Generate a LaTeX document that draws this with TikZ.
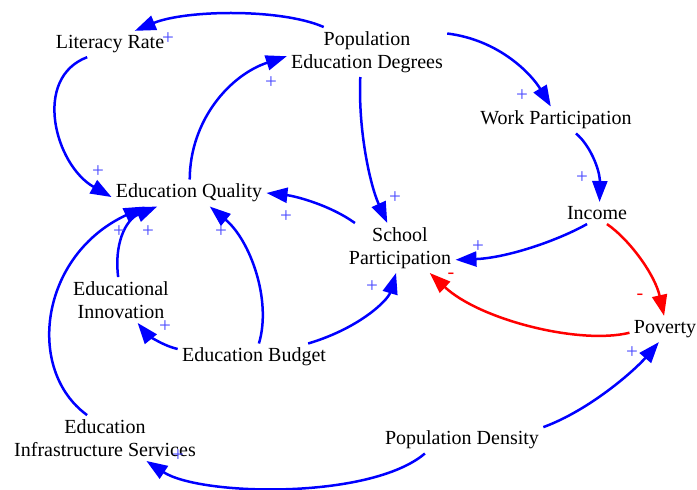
\documentclass[tikz,border=0pt]{standalone}
\usepackage{fontspec}
\setmainfont{Liberation Serif}
\usetikzlibrary{arrows.meta}

\definecolor{plusblue}{RGB}{70,70,255}

\begin{document}
\begin{tikzpicture}[
  x=0.5pt, y=-0.5pt,
  varnode/.style={rectangle, inner sep=2pt, align=center, font=\fontsize{10}{11.5}\selectfont},
  posarrow/.style={-{Triangle[length=10.5pt,width=7.5pt]}, line width=1.25pt, blue},
  negarrow/.style={-{Triangle[length=10.5pt,width=7.5pt]}, line width=1.25pt, red},
  possign/.style={inner sep=0pt, text=plusblue, font=\fontsize{10.5}{10.5}\selectfont},
  negsign/.style={inner sep=0pt, text=red, font=\fontsize{10}{10}\selectfont}
]
\useasboundingbox (0,0) rectangle (697,489);

% Variables
\node[varnode] (lit) at (110,44) {Literacy Rate};
\node[varnode] (ped) at (367,52) {Population\\Education Degrees};
\node[varnode] (wp) at (556,120) {Work Participation};
\node[varnode] (inc) at (597,213) {Income};
\node[varnode] (eq) at (189,193) {Education Quality};
\node[varnode] (sp) at (400,248) {School\\Participation};
\node[varnode] (pov) at (665,329) {Poverty};
\node[varnode] (ei) at (121,300) {Educational\\Innovation};
\node[varnode] (eb) at (254,357) {Education Budget};
\node[varnode] (eis) at (105,438) {Education\\Infrastructure Services};
\node[varnode] (pd) at (462,440) {Population Density};

% Positive links
\draw[posarrow] (ped.150) .. controls (280,8) and (185,10) .. (lit.28);
\draw[posarrow] (lit.210) .. controls (32,78) and (55,165) .. (eq.183);
\draw[posarrow] (eq.87) .. controls (190,120) and (230,75) .. (ped.183);
\draw[posarrow] (ped.13) .. controls (500,40) and (532,75) .. (wp.111);
\draw[posarrow] (wp.-34) .. controls (590,145) and (600,170) .. (inc.77);
\draw[posarrow] (ped.255) .. controls (358,130) and (370,185) .. (sp.117);
\draw[posarrow] (sp.151) .. controls (330,205) and (295,196) .. (eq.0);
\draw[posarrow] (inc.228) .. controls (555,242) and (505,258) .. (sp.-12);
\draw[posarrow] (pd.9) .. controls (590,410) and (635,370) .. (pov.245);
\draw[posarrow] (pd.200) .. controls (370,500) and (200,496) .. (eis.-29);
\draw[posarrow] (eis.128) .. controls (25,370) and (40,255) .. (eq.197);
\draw[posarrow] (ei.97) .. controls (114,245) and (125,220) .. (eq.203);
\draw[posarrow] (eb.174) .. controls (160,345) and (145,332) .. (ei.-54);
\draw[posarrow] (eb.70) .. controls (272,300) and (250,240) .. (eq.-33);
\draw[posarrow] (eb.14) .. controls (360,328) and (388,300) .. (sp.261);

% Negative links
\draw[negarrow] (inc.-48) .. controls (630,240) and (655,275) .. (pov.94);
\draw[negarrow] (pov.186) .. controls (580,345) and (480,320) .. (sp.-40);

% Polarity signs
\foreach \sx/\sy [count=\i] in {168/39, 98/172, 271/83, 522/96, 582/178, 395/198, 286/217, 478/247,
    632/353, 178/456, 119/232, 148/232, 165/327, 221/232, 372/287}
  \node[possign] (plus\i) at (\sx,\sy) {+};
\node[negsign] (minus1) at (640,297) {-};
\node[negsign] (minus2) at (451,276) {-};

\end{tikzpicture}
\end{document}
